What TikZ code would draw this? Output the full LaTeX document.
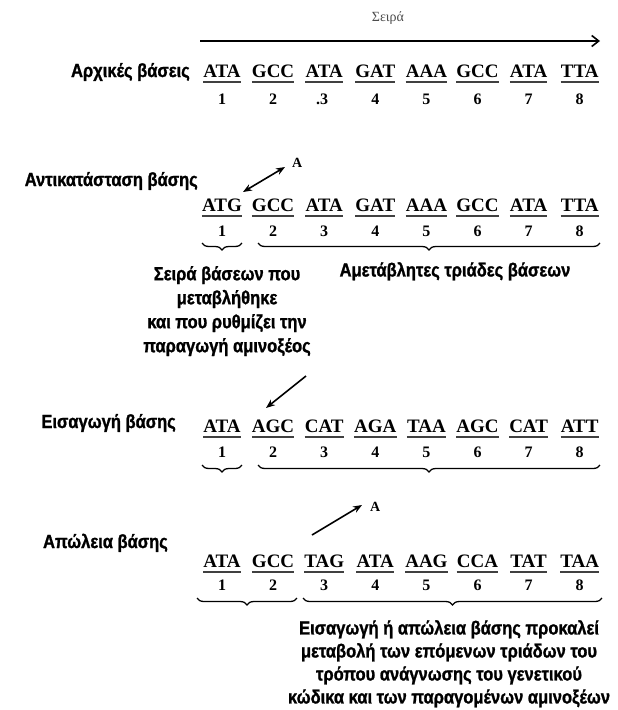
\documentclass[tikz,border=0pt]{standalone}
\usepackage{fontspec}
\setmainfont{Liberation Serif}
\newfontfamily\lblfont[FakeStretch=0.87,FakeBold=1.2]{Liberation Sans}
\usetikzlibrary{arrows.meta,decorations.pathreplacing}

\tikzset{
    codon/.style={font=\fontsize{19}{19}\selectfont\bfseries, inner sep=0pt, anchor=base},
    num/.style={font=\fontsize{16}{16}\selectfont\bfseries, inner sep=0pt, anchor=base},
    lbl/.style={font=\lblfont\bfseries\fontsize{19}{24}\selectfont, inner sep=0pt, align=center},
    uline/.style={line width=2pt, black!75},
    brc/.style={decorate, decoration={brace, mirror, amplitude=7pt}, line width=1.3pt},
    ptr/.style={-{Stealth[length=9pt,width=7pt]}, line width=1.6pt},
}

\begin{document}
\begin{tikzpicture}[x=1pt,y=-1pt]
    \useasboundingbox (0,0) rectangle (618,710);

    % direction of reading
    \node[font=\fontsize{14}{14}\selectfont, text=black!70] (dir) at (388,18) {Σειρά};
    \coordinate (d0) at (200,41);
    \coordinate (d1) at (600,41);
    \draw[line width=1.6pt, -{Straight Barb[length=7pt,width=11pt]}] (d0) -- (d1);

    % the four rows of triplets
    \foreach \cod [count=\i] in {ATA,GCC,ATA,GAT,AAA,GCC,ATA,TTA} {
        \node[codon] (ac\i) at ({222+51.1*(\i-1)},77) {\cod};
        \draw[uline] ([yshift=-5pt]ac\i.base west) -- ([yshift=-5pt]ac\i.base east);
    }
    \foreach \i in {1,2,4,5,6,7,8}
        \node[num] (an\i) at ({222+51.1*(\i-1)},104) {\i};
    \node[num] (an3) at (324.2,104) {\llap{.}3};

    \foreach \cod [count=\i] in {ATG,GCC,ATA,GAT,AAA,GCC,ATA,TTA} {
        \node[codon] (sc\i) at ({222+51.1*(\i-1)},211) {\cod};
        \draw[uline] ([yshift=-5pt]sc\i.base west) -- ([yshift=-5pt]sc\i.base east);
        \node[num] (sn\i) at ({222+51.1*(\i-1)},236) {\i};
    }

    \foreach \cod [count=\i] in {ATA,AGC,CAT,AGA,TAA,AGC,CAT,ATT} {
        \node[codon] (ic\i) at ({222+51.1*(\i-1)},432) {\cod};
        \draw[uline] ([yshift=-5pt]ic\i.base west) -- ([yshift=-5pt]ic\i.base east);
        \node[num] (in\i) at ({222+51.1*(\i-1)},457) {\i};
    }

    \foreach \cod [count=\i] in {ATA,GCC,TAG,ATA,AAG,CCA,TAT,TAA} {
        \node[codon] (dc\i) at ({222+51.1*(\i-1)},567) {\cod};
        \draw[uline] ([yshift=-5pt]dc\i.base west) -- ([yshift=-5pt]dc\i.base east);
        \node[num] (dn\i) at ({222+51.1*(\i-1)},590) {\i};
    }

    % row labels
    \node[lbl, anchor=base east] (lab1) at (190,77) {Αρχικές βάσεις};
    \node[lbl, anchor=base east] (lab2) at (198,186) {Αντικατάσταση βάσης};
    \node[lbl, anchor=base east] (lab3) at (176,428) {Εισαγωγή βάσης};
    \node[lbl, anchor=base east] (lab4) at (168,548) {Απώλεια βάσης};

    % substitution
    \coordinate (sw0) at (243,192);
    \coordinate (sw1) at (285,167);
    \draw[ptr, {Stealth[length=9pt,width=7pt]}-{Stealth[length=9pt,width=7pt]}] (sw0) -- (sw1);
    \node[font=\fontsize{14}{14}\selectfont\bfseries, anchor=south west, inner sep=0pt] (subA) at (292,168) {A};

    \coordinate (br2a) at (202,243);
    \coordinate (br2b) at (242,243);
    \coordinate (br2c) at (258,243);
    \coordinate (br2d) at (600,243);
    \draw[brc] (br2a) -- (br2b);
    \draw[brc] (br2c) -- (br2d);

    \node[lbl, anchor=north] (chg) at (227,266) {Σειρά βάσεων που\\μεταβλήθηκε\\και που ρυθμίζει την\\παραγωγή αμινοξέος};
    \node[lbl, anchor=north] (unchg) at (455,262) {Αμετάβλητες τριάδες βάσεων};

    % insertion
    \coordinate (ins0) at (306,376);
    \coordinate (ins1) at (266,408);
    \draw[ptr] (ins0) -- (ins1);

    \coordinate (br3a) at (202,465);
    \coordinate (br3b) at (242,465);
    \coordinate (br3c) at (258,465);
    \coordinate (br3d) at (600,465);
    \draw[brc] (br3a) -- (br3b);
    \draw[brc] (br3c) -- (br3d);

    % deletion
    \coordinate (del0) at (312,535);
    \coordinate (del1) at (362,505);
    \draw[ptr] (del0) -- (del1);
    \node[font=\fontsize{14}{14}\selectfont\bfseries, anchor=south west, inner sep=0pt] (delA) at (370,512) {A};

    \coordinate (br4a) at (197,598);
    \coordinate (br4b) at (297,598);
    \coordinate (br4c) at (303,598);
    \coordinate (br4d) at (602,598);
    \draw[brc] (br4a) -- (br4b);
    \draw[brc] (br4c) -- (br4d);

    \node[lbl, anchor=north, font=\lblfont\bfseries\fontsize{19}{23}\selectfont] (shift) at (449,620) {Εισαγωγή ή απώλεια βάσης προκαλεί\\μεταβολή των επόμενων τριάδων του\\τρόπου ανάγνωσης του γενετικού\\κώδικα και των παραγομένων αμινοξέων};
\end{tikzpicture}
\end{document}
